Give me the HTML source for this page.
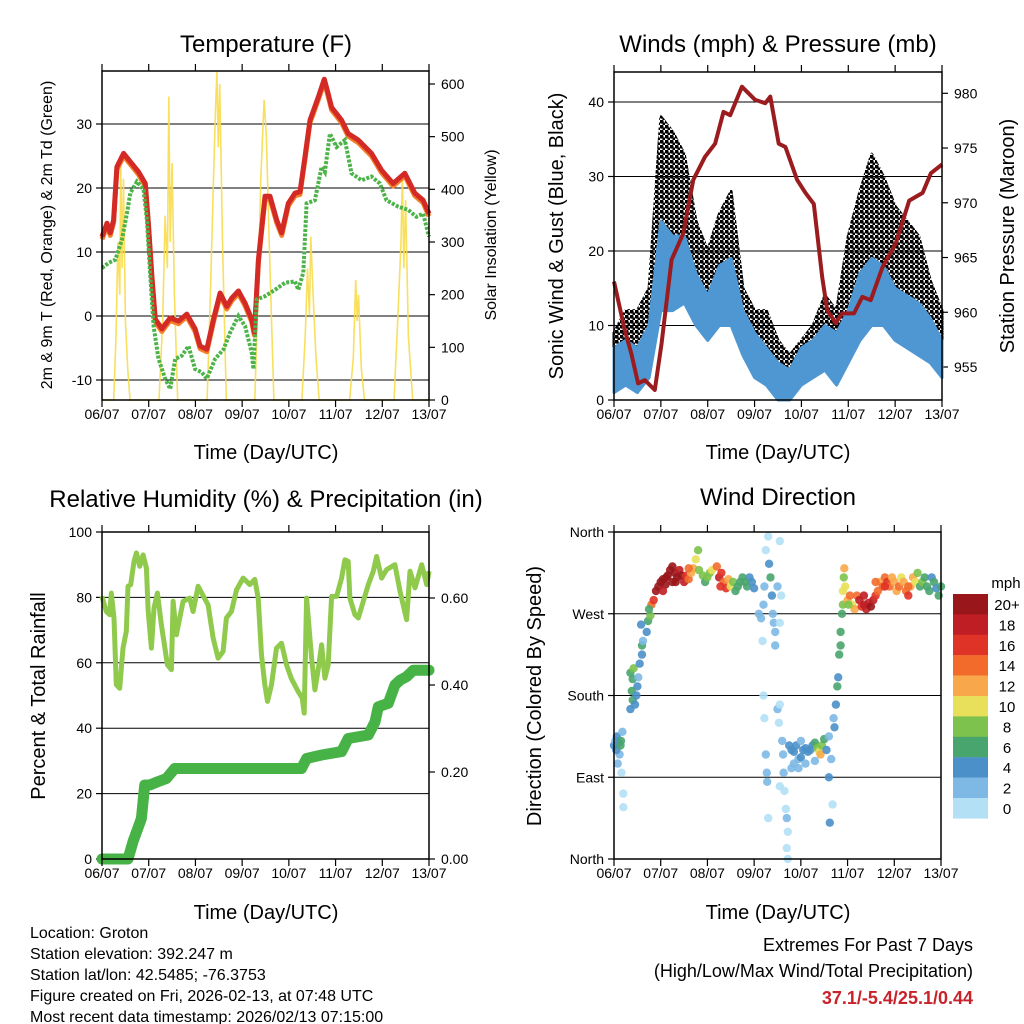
<!DOCTYPE html>
<html><head><meta charset="utf-8"><style>
html,body{margin:0;padding:0;background:#fff}
svg{display:block;font-family:"Liberation Sans",sans-serif}
</style></head><body>
<svg id="svg" width="1024" height="1024" viewBox="0 0 1024 1024">
<defs>
<pattern id="gustpat" width="5" height="5" patternUnits="userSpaceOnUse">
<circle cx="1.5" cy="1.5" r="2.1" fill="#000"/><circle cx="4" cy="4" r="1.6" fill="#000"/>
</pattern>
</defs>
<g id="t-temp"></g>
<g id="t-wind"></g>
<g id="t-rh"></g>
<g id="t-dir"></g>
<text x="266" y="52" font-size="24" text-anchor="middle">Temperature (F)</text>
<text x="778" y="52" font-size="24" text-anchor="middle">Winds (mph) &amp; Pressure (mb)</text>
<text x="266" y="507" font-size="24" text-anchor="middle">Relative Humidity (%) &amp; Precipitation (in)</text>
<text x="778" y="505" font-size="24" text-anchor="middle">Wind Direction</text>
<text x="266" y="459" font-size="20" text-anchor="middle">Time (Day/UTC)</text>
<text x="778" y="459" font-size="20" text-anchor="middle">Time (Day/UTC)</text>
<text x="266" y="919" font-size="20" text-anchor="middle">Time (Day/UTC)</text>
<text x="778" y="919" font-size="20" text-anchor="middle">Time (Day/UTC)</text>
<text transform="translate(52,235) rotate(-90)" font-size="16" text-anchor="middle">2m &amp; 9m T (Red, Orange) &amp; 2m Td (Green)</text>
<text transform="translate(496,235) rotate(-90)" font-size="16" text-anchor="middle">Solar Insolation (Yellow)</text>
<text transform="translate(563,236) rotate(-90)" font-size="20" text-anchor="middle">Sonic Wind &amp; Gust (Blue, Black)</text>
<text transform="translate(1014,236) rotate(-90)" font-size="20" text-anchor="middle">Station Pressure (Maroon)</text>
<text transform="translate(45,696) rotate(-90)" font-size="20" text-anchor="middle">Percent &amp; Total Rainfall</text>
<text transform="translate(541,696) rotate(-90)" font-size="20" text-anchor="middle">Direction (Colored By Speed)</text>
<g font-size="16">
<text x="30" y="938">Location: Groton</text>
<text x="30" y="959">Station elevation: 392.247 m</text>
<text x="30" y="980">Station lat/lon: 42.5485; -76.3753</text>
<text x="30" y="1001">Figure created on Fri, 2026-02-13, at 07:48 UTC</text>
<text x="30" y="1022">Most recent data timestamp: 2026/02/13 07:15:00</text>
</g>
<g font-size="18" text-anchor="end">
<text x="973" y="951">Extremes For Past 7 Days</text>
<text x="973" y="977">(High/Low/Max Wind/Total Precipitation)</text>
<text x="973" y="1004" fill="#c8232a" font-weight="bold">37.1/-5.4/25.1/0.44</text>
</g>
<g id="legend"></g>
</svg>
<script>
const NS="http://www.w3.org/2000/svg";
const dayLabels=["06/07","07/07","08/07","09/07","10/07","11/07","12/07","13/07"];
// Temperature
const tempDays=[0,.107,.178,.249,.32,.463,.641,.783,.926,.997,1.068,1.14,1.282,1.46,1.638,1.816,1.994,2.101,2.244,2.386,2.528,2.671,2.778,2.92,3.063,3.205,3.262,3.348,3.49,3.597,3.739,3.846,3.989,4.131,4.238,4.345,4.452,4.63,4.758,4.843,4.915,5.128,5.271,5.484,5.769,5.983,6.232,6.481,6.695,6.873,7.0];
const tempVals=[12.4,14.5,13,15,23.3,25.4,23.8,22.5,20.7,14,6.2,-0.5,-2,-0.3,-0.8,0.3,-2,-4.7,-5.2,-0.5,3.6,1.5,2.8,3.9,2,-0.5,-2.6,8.8,18.7,18.7,15,13,17.6,19.2,19.4,24.9,30.6,34.2,37,34.7,32.6,30.6,28.5,27.5,25.4,22.8,20.7,22.3,19.2,18.1,16];
const dewDays=[0,.142,.285,.427,.534,.605,.748,.89,.962,1.033,1.104,1.21,1.353,1.46,1.567,1.709,1.852,1.994,2.137,2.244,2.422,2.6,2.742,2.92,3.063,3.205,3.241,3.312,3.49,3.704,3.917,4.131,4.202,4.309,4.38,4.558,4.701,4.772,4.879,5.021,5.199,5.342,5.556,5.769,5.947,6.09,6.339,6.553,6.731,6.873,7.0];
const dewVals=[7.5,8.3,8.8,11.9,16,19.2,21,19.7,15,6.2,-1.6,-6.7,-9.8,-11.4,-6.7,-6.2,-4.7,-8.3,-8.8,-9.8,-6.7,-5.2,-2.6,0,-1.6,-5.7,-8.3,2.6,3.1,4.1,5.2,5.4,4.1,6.8,17.6,18.1,23.3,22.5,28.5,26.4,27.5,22.3,21.2,21.8,20.7,18.1,17.1,16.6,15.5,16,12.4];
const solarDays=[0,.25,.30,.34,.38,.40,.43,.46,.50,.55,.60,1.22,1.30,1.35,1.40,1.43,1.46,1.50,1.55,1.62,2.25,2.32,2.38,2.43,2.46,2.49,2.52,2.58,2.66,3.27,3.34,3.40,3.47,3.52,3.58,3.68,4.28,4.35,4.40,4.44,4.47,4.52,4.58,4.65,5.30,5.38,5.43,5.46,5.49,5.55,5.62,6.25,6.33,6.40,6.43,6.46,6.50,6.56,6.65,7];
const solarVals=[0,0,120,300,200,460,250,420,150,60,0,0,150,350,250,576,300,450,200,0,0,200,400,550,623,480,600,300,0,0,200,420,570,500,300,0,0,120,250,160,310,200,80,0,0,80,228,150,200,60,0,0,150,300,430,250,380,120,0,0];
const tempTicks=[-10,0,10,20,30];
const solarTicks=[0,100,200,300,400,500,600];
// Winds
const windDays=[0,.25,.5,.75,1,1.25,1.5,1.75,2,2.25,2.5,2.75,3,3.25,3.5,3.75,4,4.25,4.5,4.75,5,5.25,5.5,5.75,6,6.25,6.5,6.75,7];
const windLow=[1,2,1,3,12,12,13,10,8,10,10,6,3,2,0,0,2,3,4,2,5,8,10,10,8,7,6,5,3];
const windHigh=[7,8,7,10,24,22,22,17,14,18,19,12,9,7,5,4,7,8,10,9,12,17,19,18,15,14,13,11,8];
const gustLow=[4,6,5,7,17,17,18,13,10,12,13,8,5,4,2,2,4,5,6,5,8,12,14,14,11,10,9,7,5];
const gustHigh=[9,12,12,15,38,36,33,24,20,25,28,15,12,12,8,6,8,10,14,12,22,28,33,30,26,24,22,16,12];
const presDays=[0,.229,.371,.514,.657,.871,1.014,1.229,1.479,1.693,1.943,2.157,2.336,2.479,2.729,3.014,3.229,3.336,3.514,3.657,3.907,4.086,4.264,4.443,4.55,4.729,4.871,5.121,5.3,5.479,5.729,6.014,6.3,6.586,6.764,7.0];
const presVals=[962.8,958.4,956.2,953.5,953.8,952.9,957.1,964.8,967.2,972.1,974.2,975.4,978.3,978,980.6,979.4,979.1,979.7,975.4,975.1,972.1,970.9,969.9,963.2,960.2,959,959.9,959.9,961.4,961.1,964.1,966.3,970.2,970.9,972.7,973.5];
const windTicks=[0,10,20,30,40];
const presTicks=[955,960,965,970,975,980];
// RH & precip
const rhDays=[0,.093,.164,.2,.257,.307,.378,.45,.521,.557,.614,.686,.736,.807,.879,.95,.986,1.057,1.114,1.186,1.271,1.4,1.486,1.521,1.593,1.736,1.879,1.95,2.057,2.271,2.379,2.486,2.593,2.664,2.771,2.879,3.021,3.164,3.271,3.343,3.414,3.486,3.543,3.629,3.736,3.843,3.95,4.05,4.2,4.286,4.329,4.379,4.486,4.557,4.643,4.7,4.771,4.843,4.914,5.021,5.129,5.2,5.271,5.307,5.414,5.486,5.593,5.7,5.807,5.879,5.986,6.093,6.271,6.379,6.521,6.593,6.7,6.843,6.95,7.0];
const rhVals=[80.3,75.7,74.7,81.3,73.7,53.3,52.2,64.5,69.6,83.4,83.9,91,93.6,89.5,93,89,76.2,64.5,76.7,81.3,71.6,59.4,57.9,78.8,68.6,78.8,79.8,75.7,83.4,77.7,67.6,61.4,63.5,73.7,75.7,82.3,85.9,83.9,85.5,79.8,62.4,53.3,48.2,53.3,64.5,66,59.4,55.3,51.2,49.2,44.6,79.8,61.4,51.7,59.4,65.5,55.3,59.4,80.3,80.3,85.9,91.5,91,79.8,74.7,73.7,78.8,83.9,88,92.5,85.9,88.5,90,81.9,73.2,88,82.9,90,83.9,88];
const rainDays=[0,.557,.664,.843,.914,1.021,1.2,1.379,1.557,1.986,4.271,4.379,4.7,5.129,5.271,5.7,5.843,5.914,6.129,6.271,6.379,6.521,6.664,7.0];
const rainVals=[0,0,.04,.093,.17,.17,.178,.185,.208,.208,.208,.231,.239,.247,.277,.285,.315,.35,.358,.40,.411,.419,.434,.434];
const rhTicks=[0,20,40,60,80,100];
const rainTicks=[0,.2,.4,.6];
const rainTickLabels=["0.00","0.20","0.40","0.60"];
// Direction
const dirNames=["North","East","South","West","North"];
const dirTicks=[0,90,180,270,360];
const dirPts=[[0.0,125,4],[0.03,130,3],[0.06,135,4],[0.1,128,5],[0.15,130,6],[0.18,140,3],[0.12,115,2],[0.16,95,1],[0.2,72,1],[0.2,57,1],[0.08,105,3],[0.05,120,4],[0.14,125,6],
[0.35,165,4],[0.4,175,6],[0.45,170,5],[0.4,198,6],[0.35,205,7],[0.42,210,8],[0.5,190,4],[0.52,200,3],[0.55,215,4],[0.6,235,6],[0.6,225,4],[0.62,240,3],[0.7,250,5],[0.73,262,6],[0.78,268,8],[0.8,280,14],[0.75,275,6],[0.58,258,4],[0.38,185,6],[0.48,180,4],
[0.85,285,16],[0.9,295,20],[0.95,300,20],[1.0,305,20],[1.05,308,20],[1.1,302,20],[1.15,312,20],[1.2,318,20],[1.25,322,20],[1.3,315,20],[1.35,310,20],[1.4,318,18],[1.45,312,20],[1.5,305,18],[1.55,312,16],[1.6,308,14],[1.65,315,12],[1.7,320,12],[1.75,330,10],[1.8,340,9],[1.82,318,8],[1.9,312,8],[1.95,305,7],[2.0,310,8],[2.05,315,9],[2.1,318,10],[2.2,322,14],[2.25,310,18],[2.3,315,16],[2.35,305,14],[2.4,298,16],[2.45,308,12],[2.5,300,10],[2.55,305,8],[2.6,295,7],[2.65,300,6],[2.7,305,6],[2.75,310,6],[2.85,300,6],[2.9,310,5],[2.95,305,5],[3.0,298,4],[1.05,295,18],[1.25,305,20],[1.6,320,14],[1.12,310,20],[1.32,305,20],[2.28,300,16],[2.8,305,6],
[3.1,270,3],[3.15,265,2],[3.2,280,2],[3.18,240,1],[3.22,300,3],[3.25,340,1],[3.3,355,1],[3.32,325,4],[3.35,310,6],[3.38,290,4],[3.4,270,3],[3.42,260,3],[3.45,250,3],[3.45,235,2],[3.5,300,2],[3.55,350,1],[3.55,260,1],[3.58,290,1],
[3.2,180,1],[3.22,155,1],[3.25,115,3],[3.27,95,2],[3.28,85,2],[3.3,45,1],[3.5,165,3],[3.55,170,1],[3.53,150,1],[3.55,80,1],[3.6,130,3],[3.62,115,2],[3.63,95,2],[3.65,75,1],[3.68,55,1],[3.7,45,2],[3.72,30,1],[3.7,12,1],[3.72,0,1],[3.75,125,4],[3.8,120,4],[3.85,118,4],[3.9,125,4],[3.95,110,3],[4.0,112,4],[4.05,120,4],[4.1,105,2],[4.15,118,4],[4.2,120,5],[4.25,125,4],[4.3,128,6],[4.35,122,8],[4.4,118,10],[4.42,115,12],[4.45,125,8],[4.5,132,6],[4.55,120,5],[4.6,135,3],[4.6,90,4],[4.62,40,4],[4.65,110,2],[4.68,60,1],[3.8,100,2],[3.95,100,2],[4.3,108,3],[4.0,130,3],[3.85,105,3],[4.1,122,4],
[4.7,155,3],[4.72,145,4],[4.75,170,4],[4.78,190,6],[4.8,200,4],[4.82,225,6],[4.85,235,6],[4.85,250,6],[4.88,270,6],[4.9,280,8],[4.9,295,10],[4.92,310,9],[4.93,320,12],[4.95,300,10],
[5.0,285,12],[5.05,290,14],[5.1,280,10],[5.15,275,12],[5.2,290,14],[5.25,285,18],[5.3,278,16],[5.35,280,18],[5.4,275,18],[5.45,282,18],[5.5,278,20],[5.55,285,18],[5.6,290,16],[5.65,295,14],[5.7,305,12],[5.75,300,14],[5.8,310,14],[5.85,305,16],[5.9,300,14],[5.95,310,12],[6.0,305,13],[6.05,295,12],[6.1,300,14],[6.15,310,10],[6.2,305,12],[6.25,295,14],[6.3,290,16],[6.35,300,12],[6.4,310,12],[6.45,305,10],[6.5,315,8],[6.55,300,6],[6.6,305,9],[6.65,310,7],[6.7,300,6],[6.75,295,6],[6.8,310,5],[6.85,305,6],[6.9,298,5],[6.95,290,6],[7.0,300,6],[5.02,280,8],[5.6,305,14],[5.35,290,18],[5.8,300,16],[6.3,300,14]];
const legendLabels=["20+","18","16","14","12","10","8","6","4","2","0"];
const legendColors=["#99161b","#bf1e24","#e03327","#f26b2b","#f8a84a","#e8e05a","#7cc24d","#49a56e","#4b90c9","#7db9e4","#b3e0f5"];

function mk(parent,tag,attrs){const e=document.createElementNS(NS,tag);for(const k in attrs)e.setAttribute(k,attrs[k]);parent.appendChild(e);return e;}
function lin(d0,d1,r0,r1){return v=>r0+(v-d0)*(r1-r0)/(d1-d0);}
function pathOf(xs,ys,fx,fy){return xs.map((x,i)=>(i?"L":"M")+fx(x).toFixed(1)+","+fy(ys[i]).toFixed(1)).join("");}
function frame(g,L,R,T,B,fx){
  for(let i=0;i<dayLabels.length;i++){
    const x=fx(i);
    const tk=mk(g,"path",{d:`M${x},${T}v-7M${x},${B}v7`,stroke:"#000","stroke-width":1.2});
    
    
    const t=mk(g,"text",{x:x,y:B+19,"font-size":14,"text-anchor":"middle"});t.textContent=dayLabels[i];
    
    
  }
}
function box(g,L,R,T,B){const b=mk(g,"rect",{x:L,y:T,width:R-L,height:B-T,fill:"none",stroke:"#000","stroke-width":1.5});
  
  }
function hgrid(g,L,R,ys,fy,labels,side){
  ys.forEach((v,i)=>{const y=fy(v);
    const gl=mk(g,"line",{x1:L,x2:R,y1:y,y2:y,stroke:"#000","stroke-width":1});
    
    
    mk(g,"line",{x1:side=="l"?L-6:R,x2:side=="l"?L:R+6,y1:y,y2:y,stroke:"#000","stroke-width":1.2});
    const t=mk(g,"text",{x:side=="l"?L-10:R+12,y:y+5,"font-size":14,"text-anchor":side=="l"?"end":"start"});t.textContent=labels[i];
    
    
  });
}
function rticks(g,R,ys,fy,labels){
  ys.forEach((v,i)=>{const y=fy(v);
    mk(g,"line",{x1:R,x2:R+6,y1:y,y2:y,stroke:"#000","stroke-width":1.2});
    const t=mk(g,"text",{x:R+12,y:y+5,"font-size":14});t.textContent=labels[i];
    
    
  });
}
// ---- Temperature panel
(function(){
  const g=document.getElementById("t-temp");
  const L=102,R=429,T=71,B=400;
  const fx=lin(0,7,L,R), fy=lin(0,30,316,124), fs=lin(0,600,400,84);
  hgrid(g,L,R,tempTicks,fy,tempTicks.map(String),"l");
  rticks(g,R,solarTicks,fs,solarTicks.map(String));
  const s=mk(g,"path",{d:pathOf(solarDays,solarVals,fx,fs),fill:"none",stroke:"#f7dc4c","stroke-width":1.6,opacity:.9});
  
  
  const o=mk(g,"path",{d:pathOf(tempDays,tempVals.map(v=>v-0.4),fx,fy),fill:"none",stroke:"#f47f2a","stroke-width":5,"stroke-linejoin":"round"});
  
  
  const r=mk(g,"path",{d:pathOf(tempDays,tempVals,fx,fy),fill:"none",stroke:"#d42a25","stroke-width":5,"stroke-linejoin":"round"});
  
  
  const d=mk(g,"path",{d:pathOf(dewDays,dewVals,fx,fy),fill:"none",stroke:"#4cb348","stroke-width":4,"stroke-dasharray":"3 1.5"});
  
  
  box(g,L,R,T,B);frame(g,L,R,T,B,fx);
})();
// ---- Winds panel
(function(){
  const g=document.getElementById("t-wind");
  const L=614,R=942,T=72,B=400;
  const fx=lin(0,7,L,R), fy=lin(0,40,400,102), fp=lin(955,980,367,93.3);
  hgrid(g,L,R,windTicks,fy,windTicks.map(String),"l");
  rticks(g,R,presTicks,fp,presTicks.map(String));
  const band=(lo,hi,col,name)=>{
    const d=pathOf(windDays,hi,fx,fy)+windDays.slice().reverse().map((x,i)=>"L"+fx(x).toFixed(1)+","+fy(lo[lo.length-1-i]).toFixed(1)).join("")+"Z";
    const p=mk(g,"path",{d:d,fill:col,stroke:col,"stroke-width":3,"stroke-linejoin":"round"});
    
    
  };
  band(gustLow,gustHigh,"url(#gustpat)","gust-points");
  band(windLow,windHigh,"#4f97d2","wind-band");
  const p=mk(g,"path",{d:pathOf(presDays,presVals,fx,fp),fill:"none",stroke:"#9b1c1f","stroke-width":4,"stroke-linejoin":"round"});
  
  
  box(g,L,R,T,B);frame(g,L,R,T,B,fx);
})();
// ---- RH panel
(function(){
  const g=document.getElementById("t-rh");
  const L=102,R=429,T=532,B=859;
  const fx=lin(0,7,L,R), fy=lin(0,100,859,532), fr=lin(0,.6,859,598);
  hgrid(g,L,R,rhTicks,fy,rhTicks.map(String),"l");
  rticks(g,R,rainTicks,fr,rainTickLabels);
  const h=mk(g,"path",{d:pathOf(rhDays,rhVals,fx,fy),fill:"none",stroke:"#8fca4d","stroke-width":5,"stroke-linejoin":"round"});
  
  
  const r=mk(g,"path",{d:pathOf(rainDays,rainVals,fx,fr),fill:"none",stroke:"#47b347","stroke-width":11,"stroke-linejoin":"round","stroke-linecap":"round"});
  
  
  box(g,L,R,T,B);frame(g,L,R,T,B,fx);
})();
// ---- Direction panel
(function(){
  const g=document.getElementById("t-dir");
  const L=614,R=941,T=532,B=859;
  const fx=lin(0,7,L,R), fy=lin(0,360,859,532);
  hgrid(g,L,R,dirTicks,fy,dirNames,"l");
  dirPts.forEach(p=>{
    const idx=Math.max(0,Math.min(10,10-Math.floor(p[2]/2)));
    const c=mk(g,"circle",{cx:fx(p[0]).toFixed(1),cy:fy(p[1]).toFixed(1),r:4.2,fill:legendColors[idx],opacity:.9});
    
    
  });
  box(g,L,R,T,B);frame(g,L,R,T,B,fx);
  const lg=document.getElementById("legend");
  const m=mk(lg,"text",{x:1006,y:588,"font-size":15,"text-anchor":"middle"});m.textContent="mph";
  legendLabels.forEach((l,i)=>{
    const y=594+i*20.4;
    const rc=mk(lg,"rect",{x:953,y:y,width:35,height:20.6,fill:legendColors[i]});
    
    
    const t=mk(lg,"text",{x:1007,y:y+16,"font-size":15,"text-anchor":"middle"});t.textContent=l;
    
    
  });
})();
</script>
</body></html>
